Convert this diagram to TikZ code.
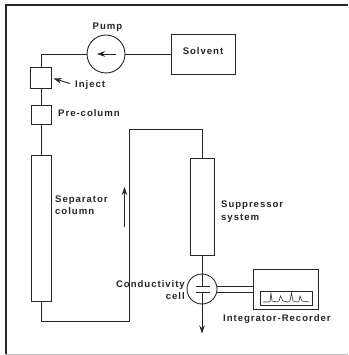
\documentclass[tikz,border=0pt]{standalone}
\usepackage{fontspec}
\setmainfont{Liberation Sans}
\usetikzlibrary{arrows.meta}
\begin{document}
\begin{tikzpicture}[x=1pt,y=-1pt,
  ln/.style={draw=black!85,line width=0.9pt},
  lab/.style={font=\fontsize{9.6}{12.5}\selectfont\bfseries\addfontfeatures{LetterSpace=10},text=black!85,inner sep=0pt,align=left},
  tip/.style={-{Stealth[length=8pt,width=5.5pt]}}]
\useasboundingbox (0,0) rectangle (348,355);
\fill[white] (0,0) rectangle (348,355);
\coordinate (fTL) at (6,5); \coordinate (fTR) at (348,5);
\coordinate (fBL) at (6,354); \coordinate (fBR) at (348,354);
\draw[black!85,line width=1.4pt] (fBL) -- (fTL) -- (fTR);
\draw[black!25,line width=0.8pt] (fBL) -- (fBR);
% components
\node[ln,circle,minimum size=38pt,inner sep=0pt] (pump) at (106,54) {};
\node[ln,rectangle,minimum width=64pt,minimum height=40pt,inner sep=0pt] (solvent) at (203,54) {};
\node[lab] (solventT) at (203,51.5) {Solvent};
\node[ln,rectangle,minimum width=21pt,minimum height=21pt,inner sep=0pt] (inject) at (41,77.5) {};
\node[ln,rectangle,minimum width=20pt,minimum height=19pt,inner sep=0pt] (pre) at (41,115) {};
\node[ln,rectangle,minimum width=20pt,minimum height=146pt,inner sep=0pt] (sep) at (41,228) {};
\node[ln,rectangle,minimum width=24pt,minimum height=97pt,inner sep=0pt] (sup) at (202,206.5) {};
\node[ln,circle,minimum size=30pt,inner sep=0pt] (cell) at (202,289) {};
\node[ln,rectangle,minimum width=65pt,minimum height=40pt,inner sep=0pt] (rec) at (285.5,289) {};
\node[ln,rectangle,minimum width=52pt,minimum height=14pt,inner sep=0pt] (trace) at (286,298) {};
% labels
\node[lab] (pumpT) at (107.5,27) {Pump};
\node[lab,anchor=base west] (injT) at (75,87.5) {Inject};
\node[lab,anchor=base west] (preT) at (58,117) {Pre-column};
\node[lab,anchor=base west] (sepT) at (55,202) {Separator};
\node[lab,anchor=base west] (sepT2) at (55,214.5) {column};
\node[lab,anchor=base west] (supT) at (221,207.5) {Suppressor};
\node[lab,anchor=base west] (supT2) at (221,220) {system};
\node[lab,anchor=base east] (conT) at (185,287) {Conductivity};
\node[lab,anchor=base east] (cellT) at (185,299) {cell};
\node[lab,anchor=base west] (recT) at (223,321) {Integrator-Recorder};
% connectors
\coordinate (cor1) at (41,54);
\draw[ln] (pump.west) -- (cor1) -- (inject.north);
\draw[ln] (solvent.west) -- (pump.east);
\draw[ln] (inject.south) -- (pre.north);
\draw[ln] (pre.south) -- (sep.north);
\coordinate (c1) at (41,321); \coordinate (c2) at (129.5,321);
\coordinate (c3) at (129.5,129); \coordinate (c4) at (202,129);
\draw[ln] (sep.south) -- (c1) -- (c2) -- (c3) -- (c4) -- (sup.north);
\coordinate (p1c) at (202,286); \coordinate (p2c) at (202,292);
\draw[ln] (sup.south) -- (p1c);
\coordinate (out) at (202,333.5);
\draw[ln,tip] (p2c) -- (out);
\coordinate (pa1) at (116,54); \coordinate (pa2) at (97,54);
\draw[ln,tip] (pa1) -- (pa2);
\coordinate (ia1) at (70,83.5); \coordinate (ia2) at (53.5,78.5);
\draw[ln,tip] (ia1) -- (ia2);
\coordinate (fa1) at (124.5,227); \coordinate (fa2) at (124.5,187);
\draw[ln,tip] (fa1) -- (fa2);
% cell plates and leads
\coordinate (p1a) at (195.5,286); \coordinate (p1b) at (209.5,286);
\coordinate (p2a) at (195.5,292); \coordinate (p2b) at (209.5,292);
\draw[ln] (p1a) -- (p1b);
\draw[ln] (p2a) -- (p2b);
\coordinate (l1a) at (216.5,286); \coordinate (l1b) at (253,286);
\coordinate (l2a) at (216.5,292); \coordinate (l2b) at (253,292);
\draw[ln] (l1a) -- (l1b);
\draw[ln] (l2a) -- (l2b);
% trace
\draw[black!80,line width=0.6pt] (263,302) -- (268,302) -- (270,301.5) -- (271,293) -- (272,301) -- (277,302) -- (279,301) -- (280.5,296) -- (283,301) -- (288,302) -- (290,301) -- (291.5,293) -- (293,301) -- (297,302) -- (299,301) -- (300,296) -- (302,301) -- (309,302);
\end{tikzpicture}
\end{document}
